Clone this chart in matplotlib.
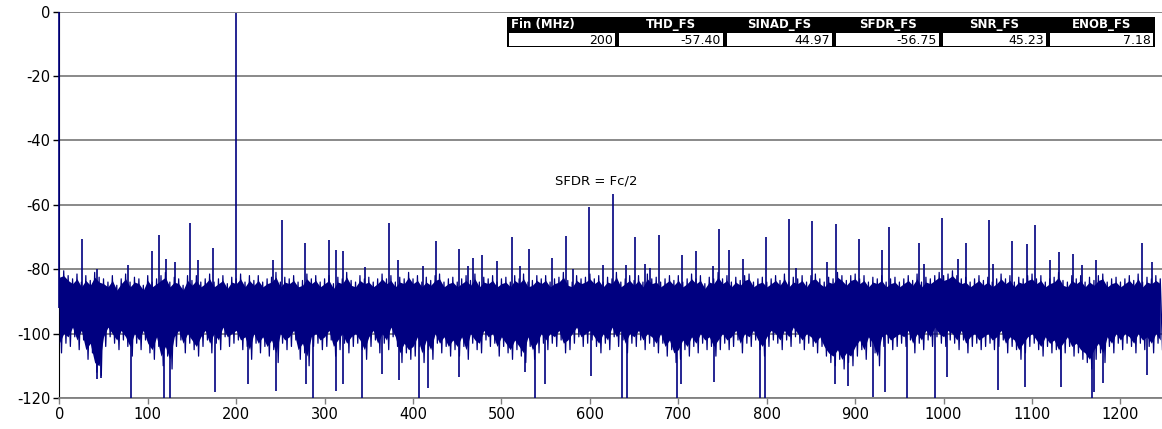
import numpy as np
import matplotlib
matplotlib.use('Agg')
import matplotlib.pyplot as plt
from matplotlib.patches import Rectangle

plt.rcParams['font.family'] = ['DejaVu Sans']
plt.rcParams['axes.unicode_minus'] = False

# noise floor envelope, every 5 MHz
noise_top = [
    -81, -80.5, -82, -83, -81.5, -84, -82, -83.5, -81, -82.5,
    -83, -84, -82, -85, -83, -81.5, -84, -82.5, -83, -85,
    -82, -84, -83, -82, -81, -84, -82.5, -83, -85, -82,
    -83.5, -82, -84, -83, -81.5, -84, -83, -82, -84.5, -82.5,
    -83, -81.5, -84, -82, -83.5, -82, -84, -83, -82.5, -81,
    -84, -82.5, -83, -82, -84, -83.5, -81.5, -83, -82, -84,
    -83, -82, -84.5, -82.5, -83, -81, -83.5, -84, -82, -83,
    -82.5, -84, -83, -81.5, -83, -82, -84, -82.5, -83, -81,
    -83, -82, -84, -82.5, -83.5, -82, -81.5, -84, -83, -82.5,
    -84, -83, -82, -83.5, -81.5, -84, -82.5, -83, -82, -84,
    -83, -82.5, -84, -82, -83, -81.5, -84, -83.5, -82, -83,
    -82, -84, -83, -82.5, -81, -83.5, -84, -82, -83, -82.5,
    -81.5, -83, -82, -84, -82.5, -83, -81, -84, -83, -82,
    -83.5, -82, -84, -81.5, -83, -82.5, -84, -83, -82, -83.5,
    -82, -84, -83, -81.5, -83, -82, -84.5, -82.5, -83, -81,
    -83, -82, -84, -82.5, -83.5, -82, -81.5, -84, -83, -82.5,
    -84, -83, -82, -83.5, -81.5, -84, -82.5, -83, -82, -84,
    -82, -81.5, -83, -84, -82.5, -83, -81, -82, -83.5, -82,
    -81.5, -83, -82, -84, -82.5, -83, -82, -84, -83, -82.5,
    -84, -83, -82, -83.5, -81.5, -84, -82.5, -83, -82, -81,
    -82, -81.5, -80.5, -82, -83, -82.5, -84, -83, -82, -83.5,
    -82.5, -84, -83, -81.5, -83, -82, -84, -82.5, -83, -82,
    -81.5, -83, -82, -84, -83, -82.5, -81, -83.5, -84, -82,
    -83, -82, -84, -82.5, -83.5, -82, -81.5, -84, -83, -82.5,
    -84, -83, -82, -83.5, -81.5, -84, -82.5, -83, -82, -83,
]
noise_bot = [
    -106, -103, -104, -101, -105, -102, -108, -106, -112, -113,
    -104, -101, -103, -105, -102, -104, -107, -103, -105, -102,
    -106, -108, -104, -110, -107, -111, -104, -102, -106, -103,
    -105, -107, -104, -102, -106, -103, -105, -101, -104, -103,
    -102, -105, -104, -108, -103, -106, -104, -107, -105, -109,
    -103, -105, -104, -102, -108, -106, -110, -104, -103, -105,
    -104, -102, -107, -105, -103, -106, -104, -103, -105, -108,
    -104, -102, -106, -103, -105, -101, -104, -109, -106, -108,
    -107, -104, -109, -105, -108, -103, -106, -104, -107, -105,
    -107, -104, -108, -103, -105, -106, -102, -104, -103, -107,
    -104, -106, -108, -105, -107, -109, -104, -108, -106, -103,
    -105, -103, -104, -102, -106, -105, -103, -101, -104, -103,
    -102, -104, -106, -103, -105, -101, -104, -102, -106, -103,
    -104, -102, -105, -103, -104, -106, -103, -107, -105, -109,
    -108, -105, -107, -104, -106, -103, -105, -104, -107, -105,
    -103, -105, -104, -102, -106, -103, -104, -102, -105, -107,
    -104, -102, -103, -105, -102, -104, -101, -103, -105, -103,
    -104, -106, -104, -107, -109, -110, -108, -111, -109, -110,
    -107, -105, -108, -104, -106, -110, -104, -103, -105, -104,
    -103, -104, -102, -106, -103, -105, -102, -104, -101, -103,
    -104, -102, -103, -105, -102, -106, -104, -103, -105, -104,
    -103, -105, -104, -102, -106, -104, -105, -108, -106, -104,
    -103, -105, -107, -104, -106, -105, -108, -106, -104, -107,
    -106, -108, -109, -111, -108, -106, -109, -104, -106, -103,
    -105, -103, -104, -106, -103, -105, -104, -106, -103, -105,
]

# spurs above the floor (MHz, dBFS)
spur_f = [0, 200, 26, 43, 78, 104.5, 113, 120.7, 131, 147.4, 157, 173.4,
          241.7, 252, 278, 305, 313, 320.4, 345.7, 373, 383.4, 411, 426,
          451.6, 462.5, 467.8, 478, 494.6, 512.3, 520.6, 530.8, 556.8, 573,
          580.5, 599.4, 614.5, 625.8, 641, 651.4, 662.7, 668, 678, 704, 720,
          739, 746.4, 757, 773, 799, 825, 833, 851, 868, 878, 904, 930,
          938.3, 972.5, 977.5, 998.5, 1016, 1025.3, 1051.3, 1055.8, 1077.3,
          1094.3, 1103.7, 1120, 1130.2, 1146.4, 1156.5, 1172.3, 1224.7, 1235.3]
spur_db = [0, -0.5, -70.5, -80, -78.8, -74.4, -69.5, -76.7, -77.8, -65.6, -77.3, -73.5,
           -77.3, -64.6, -72, -71, -74.2, -74.3, -79.4, -65.6, -77, -79, -71.2,
           -73.6, -79, -76.4, -75.5, -77.6, -69.9, -79, -73.6, -76.4, -69.8,
           -80, -60.7, -78.6, -56.8, -78.7, -69.9, -78.5, -79.6, -69.3, -75.5, -74.5,
           -79, -67.4, -74.2, -76.7, -69.9, -64.3, -79.5, -64.9, -77.8, -66.1, -70.5, -74,
           -66.8, -72, -78.5, -64, -76.8, -72, -64.7, -78.5, -71.2,
           -72.1, -66.4, -77, -74.8, -75.4, -78.6, -77, -72, -77.8]

# deep notches below the floor (MHz, dBFS)
dip_f = [42.9, 47.2, 80.6, 118.7, 125.4, 176.6, 213.9, 245.2, 279, 286.9,
         312.7, 320.6, 342.5, 364.7, 384, 406.3, 417, 451.6, 527, 538,
         548.8, 601.6, 636, 641.7, 698, 703.2, 740.5, 792.7, 798.4, 877.7,
         892.3, 920.6, 934, 958.3, 990.3, 1003.6, 1061.5, 1091.9, 1133.2,
         1167.6, 1169.6, 1179.8, 1230.4]
dip_db = [-114.1, -113.9, -120, -120, -120, -118.2, -115.7, -117.7, -115.7, -120,
          -117.9, -115.5, -120, -112.4, -114.3, -120, -117, -113.6, -112, -120,
          -115.7, -113.1, -120, -120, -120, -115.7, -115, -120, -120, -115.5,
          -116.2, -119.6, -118, -120, -120, -113.6, -117.5, -116.7, -116.7,
          -120, -118, -115.2, -112.9]

# table
table_head = ["Fin (MHz)", "THD_FS", "SINAD_FS", "SFDR_FS", "SNR_FS", "ENOB_FS"]
table_vals = ["200", "-57.40", "44.97", "-56.75", "45.23", "7.18"]

navy = '#000080'
W, H = 1162, 429
fig = plt.figure(figsize=(W / 100, H / 100), dpi=100)
ax = fig.add_axes([59.3 / W, 1 - 398 / H, 1250 * 0.8843 / W, (398 - 11.5) / H])

step = 5
f_top = np.arange(len(noise_top)) * step
f_bot = np.arange(len(noise_bot)) * step + step / 2
# solid body sits a little inside the hairy edges
ax.fill_between(f_top, np.array(noise_top) - 1.5, np.array(noise_bot) + 3,
                color=navy, lw=0, zorder=2)
zx = np.empty(len(f_top) * 2)
zy = np.empty(len(f_top) * 2)
zx[0::2], zx[1::2] = f_top, f_bot
zy[0::2], zy[1::2] = noise_top, noise_bot
ax.plot(zx, zy, color=navy, lw=0.9, zorder=3)

ax.vlines(spur_f, -92, spur_db, color=navy, lw=1.2, zorder=4, clip_on=False)
ax.vlines(dip_f, -98, dip_db, color=navy, lw=1.2, zorder=4)

ax.set_xlim(0, 1250)
ax.set_ylim(-120, 0)
ax.set_xticks(range(0, 1300, 100))
ax.set_yticks(range(-120, 1, 20))
ax.yaxis.grid(True, color='#808080', lw=1.3, zorder=0)
ax.set_axisbelow(True)
for s in ['top', 'right']:
    ax.spines[s].set_visible(False)
ax.spines['bottom'].set_color('#808080')
ax.spines['bottom'].set_linewidth(1.3)
ax.spines['left'].set_color('black')
ax.spines['left'].set_zorder(1)
ax.tick_params(axis='both', labelsize=10.5, length=4.5, width=1, pad=2)
ax.tick_params(axis='x', color='#808080')

ax.text(560, -52.5, "SFDR = Fc/2", fontsize=9.5, va='center', ha='left')

# stats table drawn in pixel coords
def px(x, y):
    return x / W, 1 - y / H

x_edges = [507, 617, 725, 834, 941, 1048, 1155]
y_top, y_mid, y_bot = 17, 32, 47
x0, y0 = px(x_edges[0], y_bot)
fig.add_artist(Rectangle((x0, y0), (x_edges[-1] - x_edges[0]) / W, (y_bot - y_top) / H,
                         transform=fig.transFigure, color='black', lw=0))
for i in range(6):
    a, b = x_edges[i] + 2, x_edges[i + 1] - 2
    cx, cy = px(a, y_bot - 1.5)
    fig.add_artist(Rectangle((cx, cy), (b - a) / W, (y_bot - 1.5 - y_mid - 1.5) / H,
                             transform=fig.transFigure, color='white', lw=0))
    if i == 0:
        tx, ty = px(a + 2, (y_top + y_mid) / 2)
        fig.text(tx, ty, table_head[i], color='white', fontsize=8.5, fontweight='bold',
                 ha='left', va='center')
    else:
        tx, ty = px((x_edges[i] + x_edges[i + 1]) / 2, (y_top + y_mid) / 2)
        fig.text(tx, ty, table_head[i], color='white', fontsize=8.5, fontweight='bold',
                 ha='center', va='center')
    tx, ty = px(b - 2, (y_mid + y_bot) / 2 + 0.5)
    fig.text(tx, ty, table_vals[i], color='black', fontsize=9, ha='right', va='center')

fig.savefig('out.png', dpi=100)
